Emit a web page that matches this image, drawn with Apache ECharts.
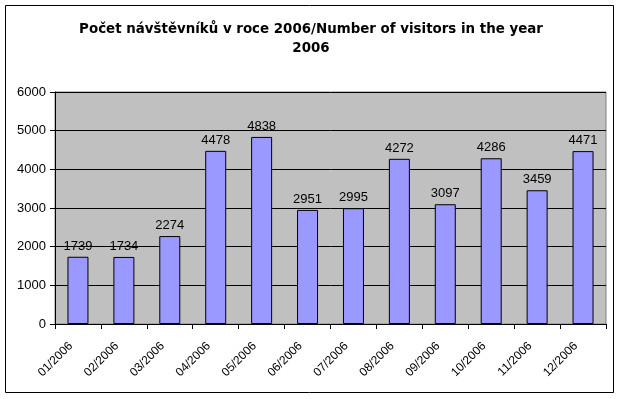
<!DOCTYPE html>
<html>
<head>
<meta charset="utf-8">
<script src="https://cdn.jsdelivr.net/npm/echarts@6/dist/echarts.min.js"></script>
<style>
  html, body { margin: 0; padding: 0; background: #fff; }
  #chart { width: 622px; height: 399px; }
</style>
</head>
<body>
<div id="chart"></div>
<script>
const months = ['01/2006', '02/2006', '03/2006', '04/2006', '05/2006', '06/2006',
  '07/2006', '08/2006', '09/2006', '10/2006', '11/2006', '12/2006']
const visitors = [1739, 1734, 2274, 4478, 4838, 2951, 2995, 4272, 3097, 4286, 3459, 4471]
const yTicks = [0, 1000, 2000, 3000, 4000, 5000, 6000]

const font = 'Liberation Sans, Arial, sans-serif'
const chart = echarts.init(document.getElementById('chart'))

chart.setOption({
  animation: false,
  backgroundColor: '#fff',
  title: {
    text: 'Počet návštěvníků v roce 2006/Number of visitors in the year\n2006',
    left: 'center',
    top: 15,
    textStyle: { fontFamily: 'DejaVu Sans, Verdana, sans-serif', fontSize: 13.4, fontWeight: 'bold', color: '#000', lineHeight: 19 }
  },
  graphic: [
    {
      type: 'rect',
      shape: { x: 5.5, y: 5.5, width: 608, height: 387 },
      style: { fill: 'none', stroke: '#000', lineWidth: 1 },
      z: 100
    }
  ],
  grid: {
    left: 55,
    right: 16,
    top: 92,
    bottom: 75,
    show: true,
    backgroundColor: '#C0C0C0',
    borderColor: '#808080',
    borderWidth: 1
  },
  xAxis: {
    type: 'category',
    data: months,
    axisLine: { lineStyle: { color: '#000' } },
    axisTick: { show: true, alignWithLabel: false, length: 5, lineStyle: { color: '#000' } },
    axisLabel: { rotate: 45, fontFamily: font, fontSize: 12, color: '#000', margin: 13, padding: [0, 10, 0, 0], interval: 0 }
  },
  yAxis: {
    type: 'value',
    min: yTicks[0],
    max: yTicks[yTicks.length - 1],
    interval: 1000,
    axisLine: { show: true, lineStyle: { color: '#000' } },
    axisTick: { show: true, length: 5, lineStyle: { color: '#000' } },
    axisLabel: { fontFamily: font, fontSize: 13, color: '#000', margin: 9, formatter: v => String(v) },
    splitLine: { show: true, lineStyle: { color: '#000', width: 1 } }
  },
  series: [
    {
      type: 'bar',
      data: visitors,
      barWidth: 21,
      itemStyle: { color: '#9999FF', borderColor: '#000', borderWidth: 1 },
      label: {
        show: true,
        position: 'top',
        distance: 4,
        fontFamily: font,
        fontSize: 13,
        color: '#000'
      }
    }
  ]
})
</script>
</body>
</html>
